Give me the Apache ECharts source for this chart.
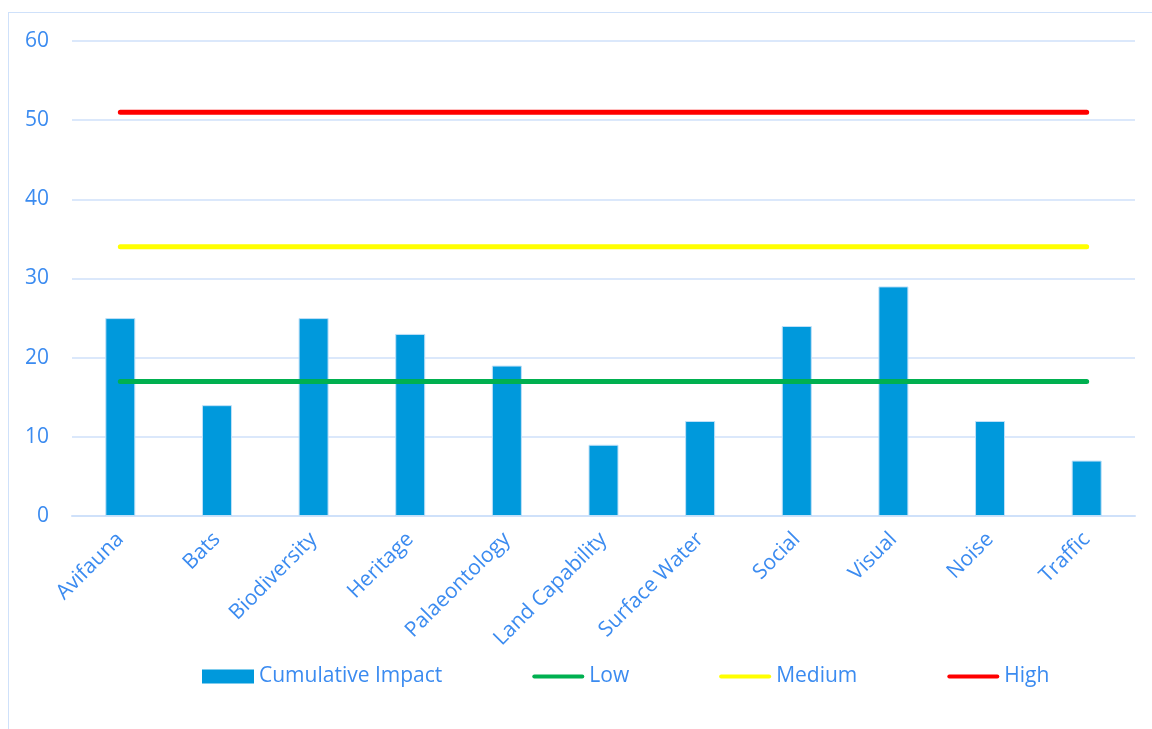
<!DOCTYPE html>
<html><head><meta charset="utf-8">
<script src="https://cdn.jsdelivr.net/npm/echarts@6/dist/echarts.min.js"></script>
<style>html,body{margin:0;padding:0;background:#fff}#c{width:1152px;height:729px}
#frame{position:absolute;left:8px;top:12px;width:1160px;height:730px;border:1.5px solid #cfe1fa;box-sizing:border-box;pointer-events:none}</style>
</head><body><div id="c"></div><div id="frame"></div>
<script>
var categories = ["Avifauna","Bats","Biodiversity","Heritage","Palaeontology","Land Capability","Surface Water","Social","Visual","Noise","Traffic"];
var cumulativeImpact = [25,14,25,23,19,9,12,24,29,12,7];
var lowValues = [17,17,17,17,17,17,17,17,17,17,17];
var mediumValues = [34,34,34,34,34,34,34,34,34,34,34];
var highValues = [51,51,51,51,51,51,51,51,51,51,51];
var yTicks = [0,10,20,30,40,50,60];

var txt = '#3b8bf0';
var font = 'Open Sans';
var chart = echarts.init(document.getElementById('c'));
function lineSeries(name, data, color){
  return {name:name,type:'line',data:data,symbol:'none',
    lineStyle:{color:color,width:5,cap:'round'},itemStyle:{color:color},z:3};
}
var lineIcon = 'path://M2,5 L50,5 Q52,5 52,7 Q52,9 50,9 L2,9 Q0,9 0,7 Q0,5 2,5 Z';
chart.setOption({
  animation:false,
  textStyle:{fontFamily:font},
  grid:{left:72,right:17,top:41,bottom:213,containLabel:false},
  legend:{
    top:661,left:197,itemGap:90,itemWidth:52,itemHeight:14,
    itemStyle:{borderWidth:0},
    textStyle:{color:txt,fontSize:21,fontFamily:font},
    data:[{name:'Cumulative Impact',icon:'rect'},
          {name:'Low',icon:lineIcon},
          {name:'Medium',icon:lineIcon},
          {name:'High',icon:lineIcon}]
  },
  xAxis:{type:'category',data:categories,
    axisLine:{lineStyle:{color:'#cfe1fa',width:2}},axisTick:{show:false},
    axisLabel:{rotate:45,color:txt,fontSize:21,fontFamily:font,margin:20,interval:0}},
  yAxis:{type:'value',min:0,max:60,interval:10,
    axisLine:{show:false},axisTick:{show:false},
    splitLine:{lineStyle:{color:'#cfe1fa',width:1.5}},
    axisLabel:{color:txt,fontSize:21,fontFamily:font,margin:23,
      formatter:function(v){return yTicks.indexOf(v)>=0?String(v):'';}}},
  series:[
    {name:'Cumulative Impact',type:'bar',data:cumulativeImpact,barWidth:30,
     itemStyle:{color:'#0099dc',borderColor:'#bfe0f8',borderWidth:1},z:2},
    lineSeries('Low',lowValues,'#00b050'),
    lineSeries('Medium',mediumValues,'#ffff00'),
    lineSeries('High',highValues,'#ff0000')
  ]
});
</script></body></html>
